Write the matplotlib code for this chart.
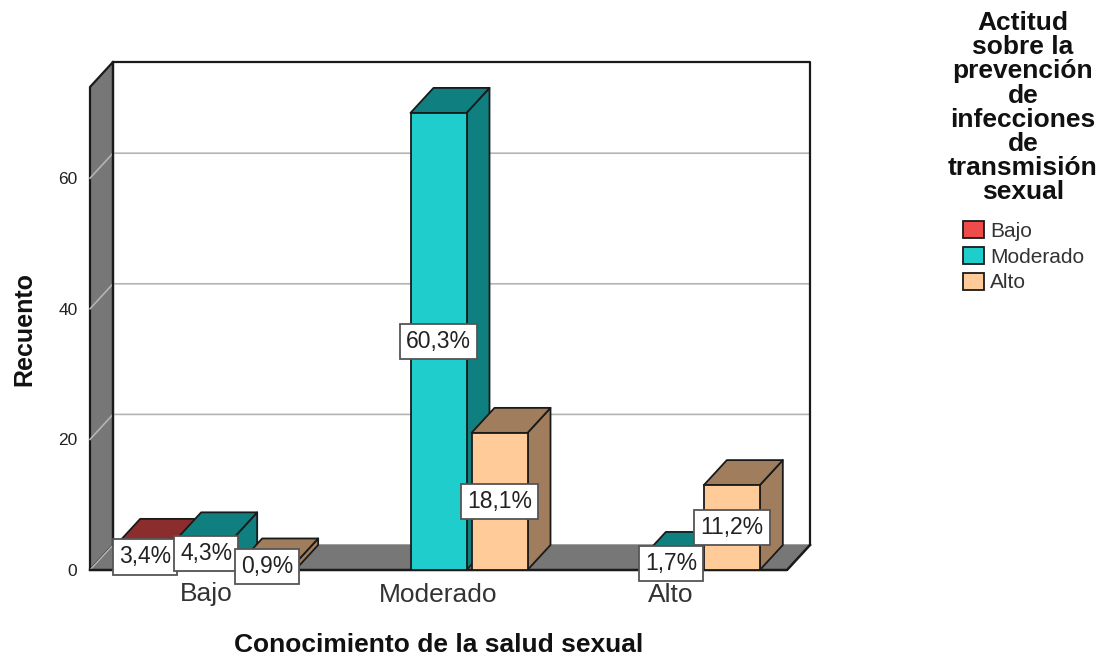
import matplotlib
matplotlib.use("Agg")
import matplotlib.pyplot as plt
from matplotlib.patches import Polygon, Patch

plt.rcParams["font.family"] = ["Liberation Sans", "DejaVu Sans"]

categories = ["Bajo", "Moderado", "Alto"]
series_names = ["Bajo", "Moderado", "Alto"]
bajo_counts = [4, 0, 0]
moderado_counts = [5, 70, 2]
alto_counts = [1, 21, 13]
bajo_labels = ["3,4%", "", ""]
moderado_labels = ["4,3%", "60,3%", "1,7%"]
alto_labels = ["0,9%", "18,1%", "11,2%"]
y_ticks = [0, 20, 40, 60]

W, H = 1108, 655
PX_X = 697 / 3      # pixels per category
PX_Y = 6.53         # pixels per count
DX = 23 / PX_X      # depth offset in data units
DY = 25 / PX_Y
XMIN, XMAX = -0.5, 2.5
YMAX = 483 / PX_Y
BAR_W = 56 / PX_X
STEP = 61 / PX_X
WALL = "#777777"
EDGE = "#1a1a1a"

fig = plt.figure(figsize=(W / 100, H / 100), dpi=100, facecolor="white")
ax = fig.add_axes([90 / W, (H - 570) / H, 697 / W, 483 / H])
ax.set_xlim(XMIN, XMAX)
ax.set_ylim(0, YMAX)
for s in ax.spines.values():
    s.set_visible(False)
ax.patch.set_visible(False)


def poly(pts, fc, z, lw=1.3, ec=EDGE):
    ax.add_patch(Polygon(pts, closed=True, facecolor=fc, edgecolor=ec,
                         linewidth=lw, zorder=z, clip_on=False,
                         joinstyle="round"))


# walls and floor
poly([(XMIN, 0), (XMIN + DX, DY), (XMIN + DX, YMAX + DY), (XMIN, YMAX)], WALL, 1, lw=1.6)
poly([(XMIN, 0), (XMAX, 0), (XMAX + DX, DY), (XMIN + DX, DY)], WALL, 1, lw=1.0, ec=WALL)
ax.plot([XMIN + DX, XMAX + DX, XMAX + DX], [YMAX + DY, YMAX + DY, DY], color=EDGE, lw=1.6,
        zorder=1.5, clip_on=False)
ax.plot([XMIN, XMAX, XMAX + DX], [0, 0, DY], color=EDGE, lw=1.8, zorder=1.5, clip_on=False)
ax.plot([XMIN + DX, XMIN + DX], [DY, YMAX + DY], color=EDGE, lw=1.6, zorder=1.6, clip_on=False)

# gridlines on wall
for v in y_ticks:
    c = "#b4b4b4"
    if v == 0:
        ax.plot([XMIN, XMIN + DX], [0, DY], color=c, lw=1.0, zorder=1.4)
        continue
    ax.plot([XMIN, XMIN + DX, XMAX + DX], [v, v + DY, v + DY], color=c, lw=1.2,
            zorder=1.4, clip_on=False)

# bars
series = [
    (bajo_counts, bajo_labels, "#ee4b4b", "#8c2d2d", -STEP),
    (moderado_counts, moderado_labels, "#1fcdcd", "#107f7f", 0.0),
    (alto_counts, alto_labels, "#ffcc99", "#a07d5c", STEP),
]
z = 3
for vals, labs, front, dark, off in series:
    for i, v in enumerate(vals):
        if v == 0:
            continue
        x0 = i + off - BAR_W / 2
        x1 = i + off + BAR_W / 2
        poly([(x1, 0), (x1 + DX, DY), (x1 + DX, v + DY), (x1, v)], dark, z)
        poly([(x0, v), (x0 + DX, v + DY), (x1 + DX, v + DY), (x1, v)], dark, z)
        ax.bar(i + off, v, BAR_W, color=front, edgecolor=EDGE, linewidth=1.3, zorder=z + 0.1)
    z += 1

for vals, labs, front, dark, off in series:
    for i, v in enumerate(vals):
        if labs[i]:
            ax.text(i + off, v / 2, labs[i], ha="center", va="center", fontsize=16.5,
                    color="#222222", zorder=10,
                    bbox=dict(boxstyle="square,pad=0.27", facecolor="white",
                              edgecolor="#555555", linewidth=1.3))

ax.set_xticks(range(len(categories)))
ax.set_xticklabels(categories, fontsize=19, color="#333333")
ax.set_yticks(y_ticks)
ax.set_yticklabels([str(v) for v in y_ticks], fontsize=12.5, color="#222222")
ax.tick_params(axis="x", length=0, pad=9)
ax.tick_params(axis="y", length=0, pad=9)
ax.set_xlabel("Conocimiento de la salud sexual", fontsize=19, fontweight="bold",
              color="#111111", labelpad=19)
ax.set_ylabel("Recuento", fontsize=18, fontweight="bold", color="#111111", labelpad=16)

# legend
fig.text(1023 / W, 1 - 11 / H,
         "Actitud\nsobre la\nprevención\nde\ninfecciones\nde\ntransmisión\nsexual",
         ha="center", va="top", fontsize=19, fontweight="bold", color="#111111",
         linespacing=1.01)
handles = [Patch(facecolor=c, edgecolor=EDGE, linewidth=1.3)
           for c in ["#ee4b4b", "#1fcdcd", "#ffcc99"]]
fig.legend(handles, series_names, loc="upper left", bbox_to_anchor=(963 / W, 1 - 221 / H),
           frameon=False, fontsize=15, labelcolor="#333333", borderpad=0, borderaxespad=0,
           handlelength=1.0, handleheight=0.87, handletextpad=0.3, labelspacing=0.3)

fig.savefig("out.png", dpi=100, facecolor="white")
